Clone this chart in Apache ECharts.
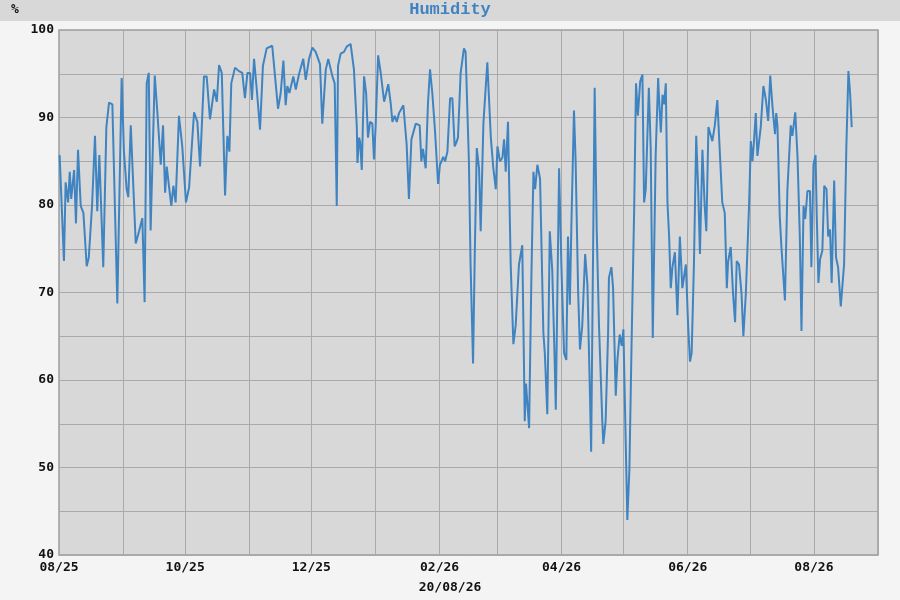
<!DOCTYPE html>
<html>
<head>
<meta charset="utf-8">
<script src="https://cdn.jsdelivr.net/npm/echarts@6/dist/echarts.min.js"></script>
<style>
html,body{margin:0;padding:0;background:#f4f4f4;}
#chart{width:900px;height:600px;}
</style>
</head>
<body>
<div id="chart"></div>
<script>
// ---- data ----
var chartTitle = 'Humidity';
var unitLabel = '%';
var dateLabel = '20/08/26';
var startDate = [2025, 7, 1];   // 1 Aug 2025 (days below count from here)
var endDate = [2026, 8, 1];     // 1 Sep 2026 (axis end)
var yTicks = [40, 50, 60, 70, 80, 90, 100];

var dayOffsets = [
0.3,2.4,3.2,4.4,5.2,5.9,7.3,8.2,9.2,10.5,11.8,12.6,13.4,14.4,16,17.4,18.5,19.5,21.4,22.9,
24.2,25.8,28.2,30.3,31.4,32.7,33.5,34.7,37.1,38.7,40.3,41.4,42.4,43.4,44.3,46.3,47.5,49.2,50.3,51.3,
52.1,53,54.3,55.3,56.4,58,59.6,61.4,62.9,65.3,66.9,68.2,70.1,71.4,73,75,76.3,77.4,78.7,80.3,
81.4,82.4,83.3,85.1,87,88.6,89.9,91.1,92.4,93.3,94.3,95.7,97.2,98.6,100.4,103.1,104.3,105.9,107.2,108.5,
109.6,110.4,111.4,113.3,114.5,116.1,118.1,119.3,120.9,122.5,124.1,126.2,127.3,129,130.2,132.2,133.3,134.3,134.9,136.2,
137.8,139.1,141,142.6,144,144.3,145.1,145.6,146.4,147.5,148.5,149.4,150.4,151.5,152.3,153.1,154.3,155.6,157.2,159.2,
160.4,161.2,162.3,163.3,164.4,166.5,168.1,169.2,170.4,171.3,172.5,174.4,175.2,176,176.5,177.3,178.4,179.4,180.5,181.8,
183.3,184.2,185.8,186.7,187.8,189.1,190.2,191.3,192.2,192.9,194.2,195.8,196.6,198.2,199,200.2,201,202,203.1,203.9,
205.2,207.1,208.8,210,211.2,212,213.2,214.4,215.2,216,217.1,218.4,219.7,220.8,222.4,224,225.2,225.8,226.4,227.3,
228.4,229.4,230.2,231.3,232.6,234.2,234.9,236.1,237.3,238.5,239.7,240.2,241.8,242.9,244.2,245.3,246.1,247,247.7,249,
249.8,251,251.9,253,254.4,255.5,256.8,257.3,259,260,261.1,262.7,263.2,264.3,265.5,265.9,267.1,267.9,269.2,270,
271.1,272.1,272.9,273.6,274.8,275.8,276.8,278.1,279,279.9,281,282.1,282.9,283.7,285.2,286.1,287.1,288.5,289.7,290.1,
291,291.8,292.6,293.4,294.2,295,295.8,296.6,297.8,299,300.2,301.4,303.1,304.2,305.1,305.9,307,308.1,309.1,309.9,
311.1,312.2,313,314,315.9,317.1,318.3,319.1,320.7,321.9,322.9,323.5,324.8,325.9,326.9,327.7,328.8,330,330.9,332.1,
333.7,334.5,335.3,336.1,336.9,337.7,338.5,339.3,340.6,341.8,342.9,343.9,345,346.2,346.8,347.4,348.5,349.3,351,352.2,
353.8,354.6,356,357.1,358.2,359,360,360.8,361.9,363.1,363.8,364.8,365.8,366.4,367.2,368,369.1,370,371.1,371.9,
372.8,373.6,374.8,375.7,376.7,378,378.8,379.6,380.7,381.7,382.5,383.3
];

var humidity = [
85.7,73.6,82.6,80.3,83.8,80.7,84,77.9,86.3,79.9,79.1,79,73,74,80,87.9,79.3,85.7,72.9,88.9,
91.7,91.5,68.75,94.5,86.1,81.8,80.9,89.1,75.6,77,78.5,68.9,93.9,95.1,77.1,94.8,90.8,84.6,89.1,81.4,
84.4,82.5,79.9,82.2,80.3,90.2,86.7,80.3,82,90.6,89.5,84.4,94.7,94.7,89.8,93.2,91.8,96,95.1,81.1,
87.9,86.1,93.9,95.7,95.3,95.1,92.2,95.1,95.1,92,96.7,93,88.6,95.9,97.9,98.2,95.1,91,92.8,96.5,
91.4,93.6,92.8,94.7,93.2,95,96.7,94.3,96.7,98,97.5,96.1,89.3,95.5,96.7,94.7,93.9,79.9,95.9,97.3,
97.5,98.1,98.4,95.5,88.9,84.8,87.7,87.2,84,94.7,92.8,87.7,89.5,89.3,85.2,89,97.1,95,91.8,93.8,
91.6,89.5,90.2,89.5,90.5,91.4,86.9,80.7,87.5,87.7,89.3,89.1,85,86.4,86.6,84.2,91.6,95.5,92.8,88.5,
82.4,84.6,85.5,85,86.1,92.2,92.2,86.7,87.2,87.7,95.1,97.9,97.5,85,73.2,61.9,74,86.5,84.2,77,
89.3,96.3,87.7,84.2,81.8,86.7,85,85.4,87.5,83.8,89.5,73.2,64.1,66.2,73.2,75.4,55.3,59.6,57.6,54.5,
71.7,83.8,81.8,84.6,83,65.4,63.1,56.1,77,72.5,61.9,56.6,84.2,73.2,63.1,62.3,76.4,68.6,77.1,90.8,
85,70.1,63.5,66.2,74.4,70.9,57.6,51.8,93.4,77.1,66.2,55.3,52.7,55.3,65.4,71.7,72.9,70.5,58.2,62.3,
65.2,63.9,65.8,57.6,44,49.8,63.5,79.5,93.9,90.2,94.1,94.9,80.3,81.8,93.4,86.5,64.8,85.7,94.5,92.3,
88.3,92.6,91.5,93.9,80.3,76.4,70.5,72.9,74.6,67.4,76.4,70.5,73.2,66.2,62.1,63.1,73.2,87.9,81.5,74.4,
86.3,79.9,77,88.9,87.3,89.1,92,92.2,80.3,79.1,70.5,73.5,75.2,69.9,66.6,73.6,73.2,69.9,65,69.9,
80.3,87.3,85,87.5,90.5,85.6,85.5,88.9,93.6,92,89.6,94.8,91.2,88.1,90.5,89,78.7,75.2,69.1,81.8,
89.1,87.9,90.6,85.4,76.4,65.6,79.9,78.4,81.6,81.6,72.9,84.6,85.7,78.7,71.1,73.8,74.8,82.2,81.8,76.4,
77.2,71.1,82.8,74,72.9,68.4,68.2,73.2,86.7,95.3,92.8,88.9
];

// ---- build ----
var DAY = 86400000;
var t0 = new Date(startDate[0], startDate[1], startDate[2]).getTime();
var t1 = new Date(endDate[0], endDate[1], endDate[2]).getTime();
var seriesData = dayOffsets.map(function (d, i) { return [t0 + d * DAY, humidity[i]]; });

function pad(n) { return (n < 10 ? '0' : '') + n; }

var mono = 'DejaVu Sans Mono';
var blue = '#3f84c1';
var gridCol = '#a9a9a9';

var chart = echarts.init(document.getElementById('chart'), null, { renderer: 'canvas' });
chart.setOption({
  backgroundColor: '#f4f4f4',
  animation: false,
  graphic: [
    { type: 'rect', left: 0, top: 0, z: -10, shape: { width: 900, height: 21 }, style: { fill: '#d8d8d8' } },
    { type: 'text', left: 11, top: 3, style: { text: unitLabel, font: 'bold 13px "' + mono + '"', fill: '#111' } },
    { type: 'text', left: 'center', top: 581, style: { text: dateLabel, font: 'bold 13px "' + mono + '"', fill: '#111' } }
  ],
  title: {
    text: chartTitle,
    left: 'center',
    top: 1,
    padding: 0,
    textStyle: { fontFamily: 'Liberation Mono', fontWeight: 'bold', fontSize: 17, color: blue }
  },
  grid: {
    left: 59, right: 22, top: 30, bottom: 45,
    show: true,
    backgroundColor: '#d8d8d8',
    borderColor: '#9c9c9c',
    borderWidth: 1.5
  },
  xAxis: {
    type: 'time',
    min: t0,
    max: t1,
    minInterval: 28 * DAY,
    maxInterval: 31 * DAY,
    axisLine: { show: false },
    axisTick: { show: false },
    splitLine: { show: true, lineStyle: { color: gridCol, width: 1 } },
    axisLabel: {
      margin: 6,
      hideOverlap: false,
      showMaxLabel: false,
      fontFamily: mono,
      fontWeight: 'bold',
      fontSize: 13,
      color: '#111',
      formatter: function (val) {
        var d = new Date(val);
        if (d.getDate() !== 1) return '';
        var m = d.getMonth();
        if (m % 2 !== 1) return '';
        return pad(m + 1) + '/' + pad(d.getFullYear() % 100);
      }
    }
  },
  yAxis: {
    type: 'value',
    min: yTicks[0],
    max: yTicks[yTicks.length - 1],
    interval: 5,
    axisLine: { show: false },
    axisTick: { show: false },
    splitLine: { show: true, lineStyle: { color: gridCol, width: 1 } },
    axisLabel: {
      margin: 5,
      fontFamily: mono,
      fontWeight: 'bold',
      fontSize: 13,
      color: '#111',
      formatter: function (v) { return yTicks.indexOf(v) >= 0 ? String(v) : ''; }
    }
  },
  series: [{
    type: 'line',
    data: seriesData,
    showSymbol: false,
    symbol: 'none',
    lineStyle: { color: blue, width: 2 },
    clip: true
  }]
});
</script>
</body>
</html>
